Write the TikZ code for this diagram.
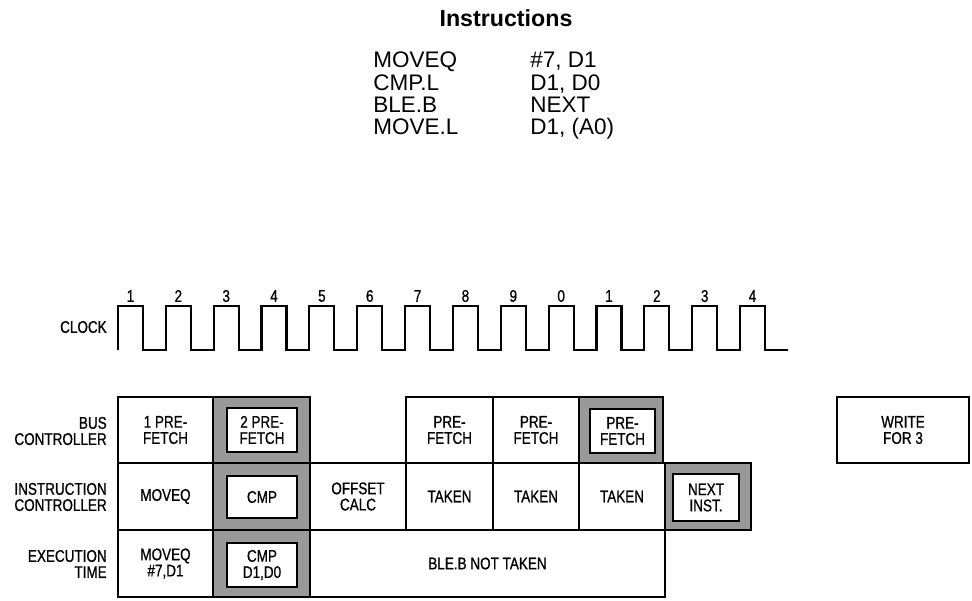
\documentclass[tikz,border=0pt]{standalone}
\usepackage{fontspec}
\setmainfont{Liberation Sans}
\newfontfamily\narrowfont[FakeStretch=0.8, FakeBold=0.8]{Liberation Sans}
\usetikzlibrary{fit}
\tikzset{
  cell/.style={draw, line width=1.4pt, inner sep=0pt},
  shadecell/.style={cell, fill=black!40, line width=1.8pt},
  innerbox/.style={cell, fill=white, line width=1.6pt},
  celltext/.style={align=center, inner sep=0pt,
                   font=\narrowfont\fontsize{12}{11.5}\selectfont},
  rowlabel/.style={anchor=east, align=right, inner sep=0pt,
                   font=\narrowfont\fontsize{12}{11.5}\selectfont},
  instr/.style={anchor=base west, inner sep=0pt, font=\fontsize{16}{18}\selectfont},
  clk/.style={line width=1.5pt, line join=miter},
}
\newcommand{\celltxt}[2]{\node[celltext] (#1t) at (#1.center) {#2};}
\begin{document}
\begin{tikzpicture}[x=0.025cm, y=-0.025cm]
  \useasboundingbox (0,0) rectangle (972,600);
  % instruction listing
  \node[font=\bfseries\fontsize{16.5}{20}\selectfont] (title) at (506,18) {Instructions};
  \foreach \op/\arg [count=\i] in {MOVEQ/{\#7, D1}, CMP.L/{D1, D0}, BLE.B/NEXT, MOVE.L/{D1, (A0)}} {
    \node[instr] (op\i) at (373,45.5+22.3*\i) {\op};
    \node[instr] (arg\i) at (530,45.5+22.3*\i) {\arg};
  }
  % clock
  \node[rowlabel] (clock) at (107,327) {CLOCK};
  \draw[clk] (118,350) foreach \k in {0,...,13} {
    -- ++(0,-44) -- ++(25,0) -- ++(0,44) -- ++(22.85,0) };
  \foreach \n [count=\k] in {1,2,3,4,5,6,7,8,9,0,1,2,3,4}
    \node[font=\narrowfont\fontsize{12}{12}\selectfont] (num\k) at (130.5+47.85*\k-47.85,296) {\n};
  % row labels
  \node[rowlabel] (lbus) at (107,431) {BUS\\CONTROLLER};
  \node[rowlabel] (lins) at (107,497) {INSTRUCTION\\CONTROLLER};
  \node[rowlabel] (lexe) at (107,564) {EXECUTION\\TIME};
  % bus controller row
  \node[cell, fit={(118,397) (213,463)}] (bus1) {};
  \node[shadecell, fit={(213,397) (310,463)}] (bus2) {};
  \node[innerbox, fit={(227,408) (297,452)}] (bus2in) {};
  \node[cell, fit={(406,397) (493,463)}] (bus3) {};
  \node[cell, fit={(493,397) (579,463)}] (bus4) {};
  \node[shadecell, fit={(579,397) (663,463)}] (bus5) {};
  \node[innerbox, fit={(590,409) (655,453)}] (bus5in) {};
  \node[cell, fit={(837,397) (969,463)}] (write) {};
  \celltxt{bus1}{1 PRE-\\FETCH}
  \celltxt{bus2in}{2 PRE-\\FETCH}
  \celltxt{bus3}{PRE-\\FETCH}
  \celltxt{bus4}{PRE-\\FETCH}
  \celltxt{bus5in}{PRE-\\FETCH}
  \celltxt{write}{WRITE\\FOR 3}
  % instruction controller row
  \node[cell, fit={(118,463) (213,530)}] (ins1) {};
  \node[shadecell, fit={(213,463) (310,530)}] (ins2) {};
  \node[innerbox, fit={(227,476) (297,518)}] (ins2in) {};
  \node[cell, fit={(310,463) (406,530)}] (ins3) {};
  \node[cell, fit={(406,463) (493,530)}] (ins4) {};
  \node[cell, fit={(493,463) (579,530)}] (ins5) {};
  \node[cell, fit={(579,463) (665,530)}] (ins6) {};
  \node[shadecell, fit={(665,463) (751,530)}] (ins7) {};
  \node[innerbox, fit={(673,474) (739,521)}] (ins7in) {};
  \celltxt{ins1}{MOVEQ}
  \celltxt{ins2in}{CMP}
  \celltxt{ins3}{OFFSET\\CALC}
  \celltxt{ins4}{TAKEN}
  \celltxt{ins5}{TAKEN}
  \celltxt{ins6}{TAKEN}
  \celltxt{ins7in}{NEXT\\INST.}
  % execution row
  \node[cell, fit={(118,530) (213,597)}] (exe1) {};
  \node[shadecell, fit={(213,530) (310,597)}] (exe2) {};
  \node[innerbox, fit={(227,543) (297,587)}] (exe2in) {};
  \node[cell, fit={(310,530) (665,597)}] (exe3) {};
  \celltxt{exe1}{MOVEQ\\\#7,D1}
  \celltxt{exe2in}{CMP\\D1,D0}
  \celltxt{exe3}{BLE.B NOT TAKEN}
\end{tikzpicture}
\end{document}
